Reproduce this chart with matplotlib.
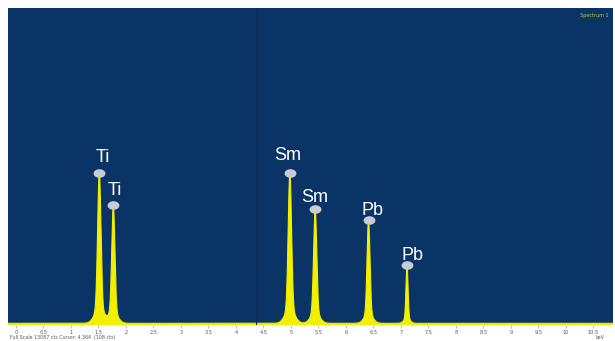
import numpy as np
import matplotlib.pyplot as plt
from matplotlib.path import Path
from matplotlib.transforms import Affine2D

# EDS spectrum: identified lines (keV), peak counts and line widths
elements = ["Ti", "Ti", "Sm", "Sm", "Pb", "Pb"]
energies = [1.515, 1.77, 4.98, 5.44, 6.41, 7.11]
counts = [6275, 4950, 6275, 4790, 4335, 2480]
widths = [0.030, 0.028, 0.030, 0.028, 0.026, 0.018]
# label baseline offsets from the marker, in pixels (dx, dy)
label_dx = [3.5, 1.0, -2.0, 0.0, 4.0, 5.0]
label_dy = [11, 10, 13, 7, 5, 5]

background = 70
full_scale = 13087
cursor_kev = 4.364
ticks = [0, 0.5, 1, 1.5, 2, 2.5, 3, 3.5, 4, 4.5, 5, 5.5, 6, 6.5, 7, 7.5, 8, 8.5, 9, 9.5, 10, 10.5]

bg_color = "#0b3466"
line_color = "#f2f000"

fig = plt.figure(figsize=(6.15, 3.41), dpi=100)
ax = fig.add_axes([8 / 615, 16 / 341, 605 / 615, 317 / 341])
ax.set_facecolor(bg_color)

# build the spectrum from the peak list (narrow core + wider foot)
x = np.linspace(-0.2, 11, 4000)
y = np.full_like(x, background, dtype=float)
for e, c, w in zip(energies, counts, widths):
    core = 0.9 * (c - background)
    foot = 0.1 * (c - background)
    y += core * np.exp(-0.5 * ((x - e) / w) ** 2)
    y += foot * np.exp(-0.5 * ((x - e) / (2.8 * w)) ** 2)

ax.fill_between(x, 0, y, color=line_color, lw=0)
ax.plot(x, y, color=line_color, lw=0.8)

ax.axvline(cursor_kev, color="#082a56", lw=0.8)

# flat oval markers on the peak tops, labels sit just above
oval = Path.unit_circle().transformed(Affine2D().scale(1.45, 1.0))
for el, e, c, dx, dy in zip(elements, energies, counts, label_dx, label_dy):
    ax.annotate(el, (e, c), xytext=(dx * 0.72, dy * 0.72), textcoords="offset points",
                color="white", fontsize=13, family="Liberation Sans",
                ha="center", va="baseline", zorder=5)
    ax.plot(e, c, marker=oval, ms=7.5, mfc="#c9ccd4", mec="#c9ccd4", zorder=6)

ax.text(0.992, 0.985, "Spectrum 1", transform=ax.transAxes, color="#b8c83a",
        fontsize=3.5, ha="right", va="top")

ax.set_xlim(-0.145, 10.855)
ax.set_ylim(0, full_scale)
ax.set_yticks([])
ax.set_xticks(ticks)
ax.set_xticklabels([f"{t:g}" for t in ticks], fontsize=3.6, color="#555555")
ax.set_xticks(np.arange(0, 10.9, 0.1), minor=True)
ax.tick_params(axis="x", which="major", length=2, width=0.4, color="#888888", pad=1.5)
ax.tick_params(axis="x", which="minor", length=1, width=0.3, color="#999999")
for s in ax.spines.values():
    s.set_visible(False)

fig.text(10 / 615, 1 / 341, f"Full Scale {full_scale} cts Cursor: {cursor_kev:.3f}  (108 cts)",
         fontsize=3.4, color="#555555", ha="left", va="bottom")
fig.text(604 / 615, 1 / 341, "keV", fontsize=3.4, color="#555555", ha="right", va="bottom")

fig.savefig("out.png", dpi=100, facecolor="white")
